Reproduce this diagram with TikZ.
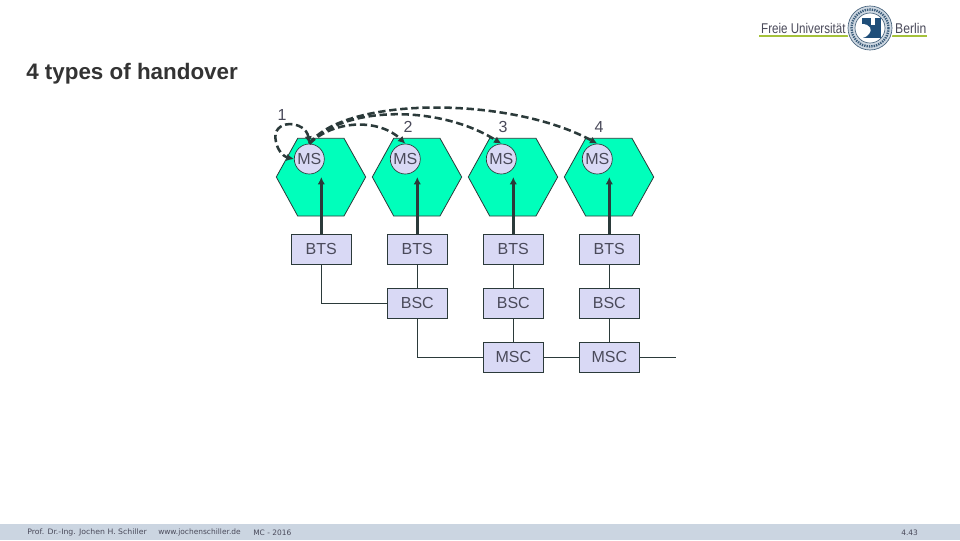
\documentclass[tikz,border=0pt]{standalone}
\usepackage{fontspec}
\setmainfont{Liberation Sans}
\newfontfamily\footfont{DejaVu Sans}
\usetikzlibrary{arrows.meta}
\definecolor{hexfill}{HTML}{00FFBB}
\definecolor{boxfill}{HTML}{D9D9F5}
\definecolor{edge}{HTML}{2B3A3A}
\definecolor{txt}{HTML}{4A4A5A}
\definecolor{band}{HTML}{CBD5E1}
\definecolor{fu}{HTML}{A5C23A}
\definecolor{sealblue}{HTML}{1F4E79}
\tikzset{
  x=0.75pt,y=-0.75pt,
  hexa/.style={draw=edge,fill=hexfill,line width=0.6pt},
  netbox/.style={draw=edge,fill=boxfill,line width=0.85pt,minimum width=45.2pt,minimum height=22.5pt,inner sep=0pt,font=\fontsize{12}{12}\selectfont,text=txt},
  msnode/.style={circle,draw=edge,fill=boxfill,line width=0.5pt,minimum size=22.5pt,inner sep=0pt,font=\fontsize{12}{12}\selectfont,text=txt},
  wire/.style={draw=edge,line width=0.9pt},
  radio/.style={draw=edge,line width=1.8pt,-{Latex[length=5.5pt,width=5.5pt]}},
  hand/.style={draw=edge,line width=1.9pt,dash pattern=on 5.5pt off 2.8pt,-{Latex[length=5.5pt,width=5.5pt]}},
  lab/.style={font=\fontsize{12}{12}\selectfont,text=txt,inner sep=0pt},
  foot/.style={font=\footfont\fontsize{5.6}{6}\selectfont,text=txt,inner sep=0pt,anchor=west},
  logot/.style={font=\fontsize{10.6}{11}\selectfont,text=txt,inner sep=0pt,anchor=west}
}
\begin{document}
\begin{tikzpicture}
\useasboundingbox (0,0) rectangle (960,540);
\fill[white] (0,0) rectangle (960,540);
\fill[band] (0,524) rectangle (960,540);
% logo
\draw[fu,line width=1.7pt] (759,36) -- (927,36);
\fill[white] (870,28) circle (23.5);
\node[logot,xscale=0.82] (fu1) at (761,28) {Freie Universität};
\node[logot,xscale=0.86] (fu2) at (895,28) {Berlin};
\draw[sealblue!60!gray,fill=sealblue!22!white,line width=0.5pt] (870,28) circle (22);
\draw[sealblue!70!gray,line width=1.8pt,dash pattern=on 1pt off 0.8pt] (870,28) circle (18.5);
\draw[sealblue!60!gray,fill=white,line width=0.5pt] (870,28) circle (15);
\fill[sealblue] (862,18) rectangle (881,38);
\fill[white] (862,24) .. controls (870,24) and (873,30) .. (869,34) .. controls (866,37) and (864,38) .. (862,38) -- cycle;
\fill[white] (871,18) rectangle (875,25);
% title
\node[anchor=west,inner sep=0pt,font=\bfseries\fontsize{16.8}{18}\selectfont,text=black!80] (title) at (26,73.5) {4 types of handover};
% hexagons and circles
\foreach \i/\x in {1/0,2/96,3/192,4/288}{
  \draw[hexa] (276.3+\x,177) -- (297.7+\x,138.3) -- (344+\x,138.3) -- (365.7+\x,177) -- (344+\x,216) -- (297.7+\x,216) -- cycle;
  \node[msnode] (ms\i) at (309.3+\x,159) {MS};
  \node[netbox] (bts\i) at (321.3+\x,249.3) {BTS};
  \coordinate (ant\i) at (321.3+\x,177);
  \draw[radio] (bts\i.north) -- (ant\i);
}
\node[netbox] (bsc2) at (417.3,303.3) {BSC};
\node[netbox] (bsc3) at (513.3,303.3) {BSC};
\node[netbox] (bsc4) at (609.3,303.3) {BSC};
\node[netbox] (msc3) at (513.3,357.3) {MSC};
\node[netbox] (msc4) at (609.3,357.3) {MSC};
\coordinate (out) at (676,357.3);
\draw[wire] (bts1.south) |- (bsc2.west);
\draw[wire] (bts2) -- (bsc2);
\draw[wire] (bts3) -- (bsc3);
\draw[wire] (bts4) -- (bsc4);
\draw[wire] (bsc2.south) |- (msc3.west);
\draw[wire] (bsc3) -- (msc3);
\draw[wire] (bsc4) -- (msc4);
\draw[wire] (msc3) -- (msc4);
\draw[wire] (msc4) -- (out);
% labels
\node[lab] (n1) at (282,115) {1};
\node[lab] (n2) at (408,127) {2};
\node[lab] (n3) at (503,127) {3};
\node[lab] (n4) at (599,127) {4};
% handover curves
\draw[hand,{Latex[length=5.5pt,width=5.5pt]}-{Latex[length=5.5pt,width=5.5pt]}] (ms1.north) .. controls (306,120) and (270,118) .. (276,142) .. controls (278,152) and (285,157) .. (ms1.west);
\draw[hand] (ms1.north) .. controls (335,119) and (380,119) .. (ms2.north);
\draw[hand] (ms1.north) .. controls (345,105) and (440,105) .. (ms3.north);
\draw[hand] (ms1.north) .. controls (345,96) and (510,96) .. (ms4.north);
% footer
\node[foot,xscale=1.04] (f1) at (27,532.5) {Prof. Dr.-Ing. Jochen H. Schiller};
\node[foot] (f2) at (158,532.5) {www.jochenschiller.de};
\node[foot] (f3) at (253,532.5) {MC - 2016};
\node[foot] (f4) at (901,532.5) {4.43};
\end{tikzpicture}
\end{document}
